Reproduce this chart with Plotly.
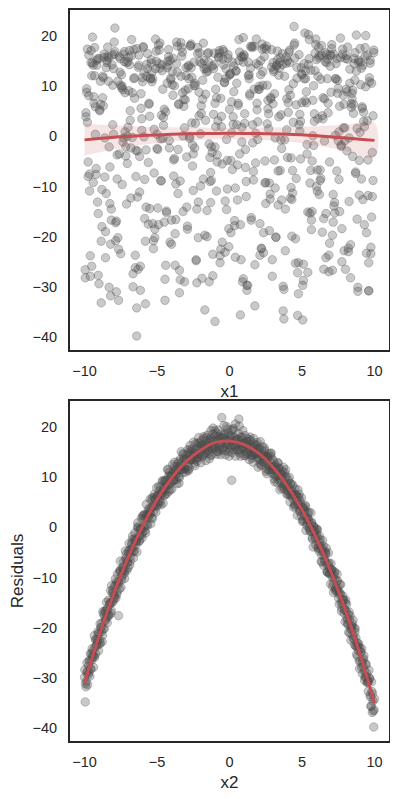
import plotly.graph_objects as go

# ---------------- data ----------------
x2_a = [-10.0, -9.9, -9.8, -9.7, -9.6, -9.5, -9.4, -9.3, -9.2, -9.1,
        -9.0, -8.9, -8.8, -8.7, -8.6, -8.5, -8.4, -8.3, -8.2, -8.1,
        -8.0, -7.9, -7.8, -7.7, -7.6, -7.5, -7.4, -7.3, -7.2, -7.1,
        -7.0, -6.9, -6.8, -6.7, -6.6, -6.5, -6.4, -6.3, -6.2, -6.1,
        -6.0, -5.9, -5.8, -5.7, -5.6, -5.5, -5.4, -5.3, -5.2, -5.1,
        -5.0, -4.9, -4.8, -4.7, -4.6, -4.5, -4.4, -4.3, -4.2, -4.1,
        -4.0, -3.9, -3.8, -3.7, -3.6, -3.5, -3.4, -3.3, -3.2, -3.1,
        -3.0, -2.9, -2.8, -2.7, -2.6, -2.5, -2.4, -2.3, -2.2, -2.1,
        -2.0, -1.9, -1.8, -1.7, -1.6, -1.5, -1.4, -1.3, -1.2, -1.1,
        -1.0, -0.9, -0.8, -0.7, -0.6, -0.5, -0.4, -0.3, -0.2, -0.1,
        0.0,
        0.1, 0.2, 0.3, 0.4, 0.5, 0.6, 0.7, 0.8, 0.9, 1.0,
        1.1, 1.2, 1.3, 1.4, 1.5, 1.6, 1.7, 1.8, 1.9, 2.0,
        2.1, 2.2, 2.3, 2.4, 2.5, 2.6, 2.7, 2.8, 2.9, 3.0,
        3.1, 3.2, 3.3, 3.4, 3.5, 3.6, 3.7, 3.8, 3.9, 4.0,
        4.1, 4.2, 4.3, 4.4, 4.5, 4.6, 4.7, 4.8, 4.9, 5.0,
        5.1, 5.2, 5.3, 5.4, 5.5, 5.6, 5.7, 5.8, 5.9, 6.0,
        6.1, 6.2, 6.3, 6.4, 6.5, 6.6, 6.7, 6.8, 6.9, 7.0,
        7.1, 7.2, 7.3, 7.4, 7.5, 7.6, 7.7, 7.8, 7.9, 8.0,
        8.1, 8.2, 8.3, 8.4, 8.5, 8.6, 8.7, 8.8, 8.9, 9.0,
        9.1, 9.2, 9.3, 9.4, 9.5, 9.6, 9.7, 9.8, 9.9, 10.0]

resid_a = [-29.9, -31.8, -28.7, -29.0, -25.2, -26.5, -24.6, -25.9, -22.3, -22.8,
           -21.1, -23.1, -19.1, -20.2, -16.7, -17.9, -16.5, -17.5, -12.6, -15.0,
           -13.1, -13.9, -10.9, -11.5, -12.3, -8.8, -9.5, -6.8, -8.5, -6.6,
           -8.1, -4.5, -5.1, -2.4, -4.7, -2.3, -2.9, -0.3, -2.6, -0.4,
           2.3, -0.1, 1.9, 0.5, 3.5, 2.8, 3.9, 1.8, 6.0, 4.4,
           6.3, 4.9, 6.6, 6.4, 9.2, 6.5, 8.9, 8.5, 10.2, 7.6,
           10.2, 9.4, 12.1, 10.6, 12.1, 10.1, 12.2, 11.5, 14.7, 11.8,
           13.6, 11.5, 14.6, 13.5, 15.5, 13.5, 14.8, 13.6, 16.8, 14.6,
           16.1, 14.0, 16.0, 15.7, 17.3, 15.2, 16.8, 14.3, 17.6, 16.2,
           19.3, 16.0, 17.4, 15.6, 18.6, 16.9, 17.9, 15.3, 20.1, 16.5,
           18.2,
           16.1, 17.3, 15.5, 20.6, 16.6, 17.5, 15.5, 18.0, 15.8, 16.7,
           14.3, 17.0, 15.6, 17.5, 14.4, 16.0, 14.5, 16.3, 14.7, 15.5,
           12.8, 14.3, 13.1, 15.9, 12.9, 14.2, 11.4, 13.0, 12.0, 13.5,
           10.6, 11.5, 8.9, 11.7, 9.6, 10.6, 8.1, 10.9, 8.2, 8.8,
           6.7, 8.7, 6.2, 6.5, 4.2, 6.5, 4.7, 6.6, 3.1, 4.0,
           1.5, 3.1, 1.7, 2.8, -0.2, 0.6, -2.1, 0.2, -2.1, -1.3,
           -4.0, -1.7, -4.4, -4.2, -7.6, -4.8, -7.4, -7.3, -9.2, -7.2,
           -10.0, -9.6, -12.6, -10.8, -12.7, -11.4, -15.0, -14.6, -17.1, -15.1,
           -18.0, -17.4, -21.1, -19.7, -21.5, -20.1, -23.7, -23.0, -24.6, -24.1,
           -27.9, -26.5, -28.6, -27.2, -31.0, -30.7, -33.4, -30.8, -34.6, -34.2]

x2_b = [-9.95, -9.85, -9.75, -9.65, -9.55, -9.45, -9.35, -9.25, -9.15, -9.05,
        -8.95, -8.85, -8.75, -8.65, -8.55, -8.45, -8.35, -8.25, -8.15, -8.05,
        -7.95, -7.85, -7.75, -7.65, -7.55, -7.45, -7.35, -7.25, -7.15, -7.05,
        -6.95, -6.85, -6.75, -6.65, -6.55, -6.45, -6.35, -6.25, -6.15, -6.05,
        -5.95, -5.85, -5.75, -5.65, -5.55, -5.45, -5.35, -5.25, -5.15, -5.05,
        -4.95, -4.85, -4.75, -4.65, -4.55, -4.45, -4.35, -4.25, -4.15, -4.05,
        -3.95, -3.85, -3.75, -3.65, -3.55, -3.45, -3.35, -3.25, -3.15, -3.05,
        -2.95, -2.85, -2.75, -2.65, -2.55, -2.45, -2.35, -2.25, -2.15, -2.05,
        -1.95, -1.85, -1.75, -1.65, -1.55, -1.45, -1.35, -1.25, -1.15, -1.05,
        -0.95, -0.85, -0.75, -0.65, -0.55, -0.45, -0.35, -0.25, -0.15, -0.05,
        0.05, 0.15, 0.25, 0.35, 0.45, 0.55, 0.65, 0.75, 0.85, 0.95,
        1.05, 1.15, 1.25, 1.35, 1.45, 1.55, 1.65, 1.75, 1.85, 1.95,
        2.05, 2.15, 2.25, 2.35, 2.45, 2.55, 2.65, 2.75, 2.85, 2.95,
        3.05, 3.15, 3.25, 3.35, 3.45, 3.55, 3.65, 3.75, 3.85, 3.95,
        4.05, 4.15, 4.25, 4.35, 4.45, 4.55, 4.65, 4.75, 4.85, 4.95,
        5.05, 5.15, 5.25, 5.35, 5.45, 5.55, 5.65, 5.75, 5.85, 5.95,
        6.05, 6.15, 6.25, 6.35, 6.45, 6.55, 6.65, 6.75, 6.85, 6.95,
        7.05, 7.15, 7.25, 7.35, 7.45, 7.55, 7.65, 7.75, 7.85, 7.95,
        8.05, 8.15, 8.25, 8.35, 8.45, 8.55, 8.65, 8.75, 8.85, 8.95,
        9.05, 9.15, 9.25, 9.35, 9.45, 9.55, 9.65, 9.75, 9.85, 9.95]

resid_b = [-34.8, -29.0, -29.4, -26.5, -28.3, -25.5, -25.7, -22.4, -23.4, -21.3,
           -22.5, -19.9, -21.5, -17.6, -18.5, -16.2, -17.4, -15.0, -16.6, -12.5,
           -13.5, -11.6, -12.9, -17.6, -8.5, -9.9, -8.4, -9.2, -6.2, -6.9,
           -5.2, -6.8, -3.2, -4.0, -2.3, -3.5, 0.1, -1.8, -0.3, -1.5,
           1.6, 0.4, 2.5, 0.4, 3.0, 2.7, 5.4, 4.1, 5.6, 4.1,
           6.3, 5.3, 8.1, 6.7, 7.7, 6.4, 9.4, 8.5, 11.0, 8.8,
           10.6, 9.3, 11.0, 10.6, 12.7, 9.9, 12.8, 12.2, 13.8, 12.0,
           13.7, 12.1, 15.5, 13.4, 15.2, 14.2, 14.9, 13.2, 16.3, 14.6,
           16.3, 14.5, 17.7, 15.6, 16.4, 14.8, 17.4, 16.4, 18.6, 15.8,
           17.3, 15.2, 18.1, 16.6, 17.8, 15.9, 18.6, 16.4, 17.1, 15.1,
           17.7, 9.4, 19.4, 16.4, 17.7, 15.5, 21.6, 15.9, 18.0, 16.2,
           16.9, 14.7, 17.1, 15.3, 15.9, 13.8, 16.2, 14.8, 16.5, 13.7,
           14.9, 13.5, 15.3, 13.7, 14.2, 11.7, 14.0, 12.3, 14.2, 11.5,
           12.1, 10.2, 12.0, 10.5, 11.8, 8.9, 10.1, 8.5, 10.0, 6.6,
           8.2, 7.1, 8.7, 5.8, 6.6, 4.5, 6.1, 4.7, 5.4, 2.3,
           3.9, 2.3, 4.1, 0.8, 1.4, -0.7, 0.9, -0.9, -0.6, -3.5,
           -2.0, -3.5, -2.4, -5.5, -4.9, -6.4, -5.3, -8.9, -7.1, -8.9,
           -8.4, -11.1, -10.3, -12.3, -10.6, -13.4, -13.2, -16.1, -14.4, -16.4,
           -16.7, -19.2, -16.9, -20.1, -19.7, -22.3, -20.9, -23.7, -23.8, -26.7,
           -24.8, -27.1, -26.2, -29.7, -29.0, -30.8, -30.1, -35.7, -36.9, -39.8]

x2_c = [-9.93, -9.83, -9.73, -9.63, -9.53, -9.43, -9.33, -9.23, -9.13, -9.03,
        -8.93, -8.83, -8.73, -8.63, -8.53, -8.43, -8.33, -8.23, -8.13, -8.03,
        -7.93, -7.83, -7.73, -7.63, -7.53, -7.43, -7.33, -7.23, -7.13, -7.03,
        -6.93, -6.83, -6.73, -6.63, -6.53, -6.43, -6.33, -6.23, -6.13, -6.03,
        -5.93, -5.83, -5.73, -5.63, -5.53, -5.43, -5.33, -5.23, -5.13, -5.03,
        -4.93, -4.83, -4.73, -4.63, -4.53, -4.43, -4.33, -4.23, -4.13, -4.03,
        -3.93, -3.83, -3.73, -3.63, -3.53, -3.43, -3.33, -3.23, -3.13, -3.03,
        -2.93, -2.83, -2.73, -2.63, -2.53, -2.43, -2.33, -2.23, -2.13, -2.03,
        -1.93, -1.83, -1.73, -1.63, -1.53, -1.43, -1.33, -1.23, -1.13, -1.03,
        -0.93, -0.83, -0.73, -0.63, -0.53, -0.43, -0.33, -0.23, -0.13, -0.03,
        0.07, 0.17, 0.27, 0.37, 0.47, 0.57, 0.67, 0.77, 0.87, 0.97,
        1.07, 1.17, 1.27, 1.37, 1.47, 1.57, 1.67, 1.77, 1.87, 1.97,
        2.07, 2.17, 2.27, 2.37, 2.47, 2.57, 2.67, 2.77, 2.87, 2.97,
        3.07, 3.17, 3.27, 3.37, 3.47, 3.57, 3.67, 3.77, 3.87, 3.97,
        4.07, 4.17, 4.27, 4.37, 4.47, 4.57, 4.67, 4.77, 4.87, 4.97,
        5.07, 5.17, 5.27, 5.37, 5.47, 5.57, 5.67, 5.77, 5.87, 5.97,
        6.07, 6.17, 6.27, 6.37, 6.47, 6.57, 6.67, 6.77, 6.87, 6.97,
        7.07, 7.17, 7.27, 7.37, 7.47, 7.57, 7.67, 7.77, 7.87, 7.97,
        8.07, 8.17, 8.27, 8.37, 8.47, 8.57, 8.67, 8.77, 8.87, 8.97,
        9.07, 9.17, 9.27, 9.37, 9.47, 9.57, 9.67, 9.77, 9.87, 9.97]

resid_c = [-31.2, -27.0, -27.7, -29.7, -25.2, -25.9, -21.6, -25.2, -22.4, -24.6,
           -19.2, -20.8, -16.8, -20.2, -16.7, -19.0, -14.5, -15.2, -11.6, -14.8,
           -11.7, -14.1, -9.3, -10.9, -6.7, -10.5, -7.9, -10.2, -5.4, -7.0,
           -3.2, -5.9, -3.5, -6.1, -1.1, -2.6, 0.9, -2.8, -0.3, -2.1,
           2.3, -0.7, 4.6, 1.7, 3.8, 0.7, 5.9, 3.2, 5.5, 7.9,
           4.5, 7.3, 4.5, 9.3, 7.5, 9.4, 6.7, 11.6, 8.6, 10.2,
           12.5, 9.5, 11.5, 8.7, 13.1, 11.7, 15.1, 10.9, 13.5, 11.0,
           14.5, 11.3, 16.3, 13.5, 14.7, 12.8, 16.7, 13.9, 17.9, 15.0,
           17.3, 14.3, 16.4, 13.3, 18.4, 15.4, 17.7, 14.5, 19.8, 16.2,
           18.8, 15.1, 17.7, 14.5, 21.9, 15.8, 18.4, 16.7, 19.6, 14.2,
           18.3, 14.9, 19.7, 16.1, 17.2, 15.2, 20.2, 14.2, 17.4, 15.9,
           18.3, 15.1, 16.5, 13.5, 17.2, 14.3, 17.7, 14.9, 15.7, 12.0,
           15.8, 12.3, 16.1, 13.1, 14.2, 10.7, 14.7, 11.5, 14.8, 11.6,
           9.7, 12.4, 10.3, 12.8, 7.5, 10.3, 11.2, 7.7, 11.5, 7.4,
           9.4, 5.1, 7.2, 8.4, 4.6, 6.4, 2.4, 6.0, 3.5, 5.9,
           1.3, 3.5, -0.6, 1.9, 3.0, -0.8, 1.0, -3.9, -0.9, -0.4,
           -0.5, -4.7, -3.7, -6.9, -3.7, -6.7, -4.1, -9.0, -8.0, -11.3,
           -8.6, -13.0, -9.0, -12.7, -12.1, -15.3, -11.4, -15.3, -14.5, -18.8,
           -15.4, -19.4, -18.4, -22.5, -19.2, -22.1, -20.2, -25.3, -23.5, -28.2,
           -25.0, -29.2, -25.6, -30.0, -29.7, -32.7, -30.1, -35.6, -33.2, -36.4]

x2_d = [-9.98, -9.88, -9.78, -9.68, -9.58, -9.48, -9.38, -9.28, -9.18, -9.08,
        -8.98, -8.88, -8.78, -8.68, -8.58, -8.48, -8.38, -8.28, -8.18, -8.08,
        -7.98, -7.88, -7.78, -7.68, -7.58, -7.48, -7.38, -7.28, -7.18, -7.08,
        -6.98, -6.88, -6.78, -6.68, -6.58, -6.48, -6.38, -6.28, -6.18, -6.08,
        -5.98, -5.88, -5.78, -5.68, -5.58, -5.48, -5.38, -5.28, -5.18, -5.08,
        -4.98, -4.88, -4.78, -4.68, -4.58, -4.48, -4.38, -4.28, -4.18, -4.08,
        -3.98, -3.88, -3.78, -3.68, -3.58, -3.48, -3.38, -3.28, -3.18, -3.08,
        -2.98, -2.88, -2.78, -2.68, -2.58, -2.48, -2.38, -2.28, -2.18, -2.08,
        -1.98, -1.88, -1.78, -1.68, -1.58, -1.48, -1.38, -1.28, -1.18, -1.08,
        -0.98, -0.88, -0.78, -0.68, -0.58, -0.48, -0.38, -0.28, -0.18, -0.08,
        0.02, 0.12, 0.22, 0.32, 0.42, 0.52, 0.62, 0.72, 0.82, 0.92,
        1.02, 1.12, 1.22, 1.32, 1.42, 1.52, 1.62, 1.72, 1.82, 1.92,
        2.02, 2.12, 2.22, 2.32, 2.42, 2.52, 2.62, 2.72, 2.82, 2.92,
        3.02, 3.12, 3.22, 3.32, 3.42, 3.52, 3.62, 3.72, 3.82, 3.92,
        4.02, 4.12, 4.22, 4.32, 4.42, 4.52, 4.62, 4.72, 4.82, 4.92,
        5.02, 5.12, 5.22, 5.32, 5.42, 5.52, 5.62, 5.72, 5.82, 5.92,
        6.02, 6.12, 6.22, 6.32, 6.42, 6.52, 6.62, 6.72, 6.82, 6.92,
        7.02, 7.12, 7.22, 7.32, 7.42, 7.52, 7.62, 7.72, 7.82, 7.92,
        8.02, 8.12, 8.22, 8.32, 8.42, 8.52, 8.62, 8.72, 8.82, 8.92,
        9.02, 9.12, 9.22, 9.32, 9.42, 9.52, 9.62, 9.72, 9.82, 9.92]

resid_d = [-28.4, -30.7, -31.4, -26.7, -28.2, -24.2, -27.9, -23.8, -23.7, -20.8,
           -23.3, -20.0, -22.8, -17.2, -18.6, -14.9, -17.8, -15.4, -17.1, -13.1,
           -14.3, -10.3, -13.4, -10.9, -8.8, -12.0, -8.0, -8.7, -4.7, -8.6,
           -4.8, -7.5, -4.3, -1.7, -4.8, -2.7, -4.9, 0.0, -1.6, 1.8,
           -0.9, 2.6, -1.1, 2.6, 2.2, 5.6, 1.9, 4.3, 6.6, 3.0,
           6.1, 8.2, 5.1, 6.9, 4.8, 9.2, 7.5, 11.5, 7.2, 10.2,
           7.6, 11.2, 13.0, 9.5, 11.5, 8.8, 13.6, 11.6, 14.5, 11.6,
           13.6, 15.5, 11.7, 15.1, 13.7, 17.0, 12.3, 15.7, 14.0, 16.8,
           12.9, 16.4, 18.1, 14.8, 17.9, 16.0, 13.7, 19.3, 15.7, 17.2,
           18.2, 14.6, 19.4, 16.2, 17.8, 15.4, 20.3, 14.5, 17.4, 18.8,
           15.7, 19.4, 16.5, 18.0, 14.2, 17.5, 18.7, 14.8, 16.7, 19.3,
           14.3, 16.7, 17.7, 14.7, 18.0, 15.0, 13.0, 16.6, 14.7, 16.9,
           13.8, 17.1, 12.5, 14.3, 15.4, 11.2, 14.0, 12.3, 14.8, 10.8,
           13.1, 9.1, 11.5, 12.9, 9.4, 10.9, 7.8, 12.0, 8.6, 10.1,
           6.6, 10.0, 6.4, 7.4, 4.0, 7.7, 5.3, 7.5, 3.2, 4.8,
           1.2, 3.9, 4.4, 0.4, 1.7, 0.0, 2.9, -2.3, 0.1, -2.1,
           -0.3, -4.2, -2.9, -6.8, -2.6, -5.7, -5.1, -8.8, -5.1, -9.3,
           -8.5, -11.8, -8.8, -12.0, -9.3, -14.1, -13.2, -16.7, -13.7, -16.4,
           -14.5, -18.4, -20.9, -17.6, -20.4, -18.5, -23.4, -22.0, -25.7, -23.2,
           -26.6, -24.2, -27.8, -30.5, -27.4, -30.9, -28.5, -33.8, -32.7, -36.6]

x1_a = [3.7, -8.2, 5.1, -1.4, 9.6, -6.3, 0.8, -9.5, 2.2, 7.9, -4.1, -0.3, 6.4, -7.7, 1.5, -2.9, 8.8, -5.6, 4.3, -3.2,
        -9.1, 7.2, -0.9, 2.8, -6.8, 9.9, -3.7, 5.6, -1.8, 0.2, -8.6, 4.9, 6.9, -5.0, 3.1, -2.4, 8.1, -7.3, 1.1, -4.6,
        0.5, -5.9, 9.3, -2.0, 6.1, -9.8, 3.4, -7.0, 7.6, -1.1, 4.6, -4.4, 1.9, -8.9, 8.5, -3.5, 5.3, -6.1, 2.6, -0.6,
        -7.5, 2.0, -3.0, 8.3, -9.3, 5.8, 0.0, -5.3, 6.7, -2.6, 9.1, -6.6, 3.9, -1.6, 7.4, -8.0, 1.3, -4.8, 4.1, 9.7,
        6.2, -1.2, -8.4, 3.5, -4.2, 8.9, 0.7, -6.9, 2.4, -9.7, 5.5, -3.3, 7.8, -0.1, 4.5, -7.9, 1.7, -5.4, 9.4, -2.2,
        -4.9, 7.0, 2.9, -9.0, 5.2, -0.7, -6.4, 8.6, -2.7, 0.9, 6.6, -8.1, 3.3, -3.9, 9.0, -5.7, 1.0, -1.9, 4.8, -7.1,
        8.0, -3.6, -0.4, 5.9, -7.6, 2.3, -9.4, 6.3, -1.5, 3.8, -5.1, 9.8, -2.8, 0.3, -8.7, 7.5, -4.3, 1.4, -6.0, 4.2,
        -2.1, 5.0, -7.2, 0.6, 8.4, -4.7, 3.0, -9.9, 6.8, -0.8, -5.5, 2.7, 9.5, -3.1, 4.4, -6.7, 1.8, -8.3, 7.3, -1.0,
        1.6, -6.2, 7.7, -3.8, 4.0, -9.2, 0.1, 8.7, -5.2, 2.5, -1.3, 6.0, -7.4, 9.2, -2.5, 3.6, -8.5, 5.7, -0.2, -4.5,
        5.4, -8.8, 2.1, -0.5, 7.1, -4.0, 3.2, -6.5, 8.2, -2.3, 0.4, -9.6, 6.5, -3.4, 4.7, -7.8, 1.2, -5.8, 9.6, -1.7,
        -6.4, 3.7, 0.9, -9.0, 8.0, -1.9, 5.1, -4.4, 2.2, -7.5, 6.9, -0.6, 4.3, -8.2, 9.3, -2.9, 1.5, -5.3, 7.6, -3.7,
        2.8, -7.1, 6.2, -0.3, -4.9, 9.1, -2.0, 4.6, -9.4, 1.1, 7.4, -5.6, 3.5, -1.2, 8.5, -6.8, 0.7, -3.2, 5.8, -8.6,
        -1.4, 8.8, -5.0, 2.6, -8.0, 4.9, -2.6, 0.0, 6.4, -6.1, 9.9, -3.5, 1.9, -9.7, 5.3, -0.9, 7.9, -4.6, 3.1, -7.7,
        7.0, -2.4, 4.1, -8.9, 0.5, -5.9, 9.4, -1.6, 3.4, -6.3, 6.1, -3.0, 1.3, -9.1, 8.3, -4.1, 2.0, -7.0, 5.6, -0.1,
        -5.4, 1.0, 8.6, -3.3, 4.5, -7.3, 0.2, -9.8, 6.7, -1.8, 3.9, -6.6, 9.7, -2.7, 5.9, -8.4, 2.4, -4.8, 7.2, -0.7,
        4.0, -9.3, 1.7, -5.1, 7.8, -2.2, 5.5, -7.9, 0.8, -3.6, 9.5, -0.4, 3.0, -6.9, 6.0, -4.2, 2.9, -8.1, 8.9, -1.5,
        -8.5, 6.6, -1.1, 3.3, -4.3, 9.2, -6.0, 0.3, 5.0, -2.8, 7.3, -9.5, 2.3, -5.7, 4.4, -0.8, 8.1, -3.8, 1.4, -7.4,
        0.6, -3.9, 5.2, -6.7, 8.4, -1.0, 2.7, -8.7, 6.8, -4.5, 1.6, -9.9, 4.8, -2.1, 9.0, -5.2, 3.8, -7.2, 7.5, -0.2,
        -2.5, 7.7, -7.6, 3.6, -0.5, 5.7, -9.2, 1.8, -4.7, 8.7, -3.4, 6.3, -6.2, 0.4, 4.2, -8.8, 2.5, -1.3, 9.8, -5.5,
        6.5, -4.0, 0.1, -7.8, 3.2, -1.7, 8.2, -5.8, 2.1, -9.6, 7.1, -2.3, 5.4, -6.5, 1.2, -3.1, 9.6, -8.3, 4.7, -1.0,
        -6.4]

x1_b = [-3.45, 6.85, -9.05, 1.25, 4.75, -6.15, 8.35, -0.65, -5.25, 2.95, 9.45, -7.85, 0.35, -2.15, 5.65, -8.55, 3.85, -4.35, 7.15, -1.55,
        8.95, -5.75, 2.45, -9.65, 6.05, -0.15, -3.85, 4.25, -7.05, 1.65, 9.85, -2.55, 5.35, -8.25, 0.85, -4.95, 7.55, -6.45, 3.15, -1.25,
        -8.05, 3.55, -1.95, 7.85, -4.55, 0.15, 9.15, -6.85, 2.65, -9.35, 5.85, -3.05, 1.05, -7.35, 6.55, -0.95, 4.05, -5.45, 8.45, -2.35,
        4.95, -9.85, 7.35, -3.25, 0.45, -6.55, 2.15, 9.65, -1.75, -8.35, 5.15, -4.05, 6.95, -0.25, 3.45, -7.55, 8.65, -2.85, 1.45, -5.05,
        -0.45, 5.45, -7.95, 3.05, -2.65, 8.15, -5.95, 1.85, -9.45, 6.35, -3.65, 0.65, 9.35, -4.85, 4.45, -8.65, 2.25, -1.45, 7.65, -6.25,
        7.05, -2.05, 0.95, -6.75, 4.15, -9.15, 8.75, -4.25, 2.55, -0.75, 5.95, -8.45, 3.65, -5.65, 9.95, -1.05, 1.55, -7.25, 6.15, -3.35,
        -6.95, 1.35, 8.05, -4.65, 3.25, -0.35, -9.55, 6.75, -2.45, 4.65, -7.45, 0.05, 9.05, -5.35, 2.85, -3.95, 7.45, -8.75, 5.25, -1.85,
        2.05, -8.95, 5.75, -1.65, 8.55, -5.55, 0.25, -3.15, 6.45, -9.25, 3.95, -6.05, 1.95, -0.55, 9.25, -4.15, 4.85, -7.15, 7.95, -2.75,
        -4.75, 9.55, -0.85, 3.35, -7.75, 6.25, -2.95, 1.15, -9.75, 4.35, -5.85, 8.25, -1.35, 0.55, -6.35, 5.55, -3.55, 7.25, -8.15, 2.75,
        6.65, -3.75, -0.05, -7.65, 2.35, 9.75, -5.15, 4.55, -1.15, -9.95, 7.75, -2.25, 1.75, -6.65, 5.05, -4.45, 8.85, 0.75, -8.85, 3.75,
        0.95, -6.15, 4.75, -3.45, 8.35, -8.55, 2.95, -0.65, 6.85, -5.25, 9.45, -1.55, 3.85, -7.85, 5.65, -4.35, 0.35, -9.05, 7.15, -2.15,
        -4.95, 3.15, -8.25, 6.05, -1.25, 9.85, -6.45, 1.65, -3.85, 7.55, -0.15, -9.65, 4.25, -2.55, 8.95, -5.75, 2.45, -7.05, 5.35, 0.85,
        6.55, -2.35, -7.35, 1.05, -4.55, 9.15, -0.95, 3.55, -9.35, 5.85, -1.95, 7.85, -6.85, 0.15, 4.05, -3.05, 8.45, -5.45, 2.65, -8.05,
        -6.55, 8.65, 0.45, -2.85, 5.15, -9.85, 3.45, -0.25, 7.35, -4.05, 1.45, -7.55, 9.65, -1.75, 4.95, -5.05, 2.15, -8.35, 6.95, -3.25,
        3.05, -8.65, 6.35, -1.45, -5.95, 9.35, -2.65, 0.65, 7.65, -4.85, 4.45, -9.45, 1.85, -6.25, 8.15, -0.45, 5.45, -3.65, 2.25, -7.95,
        -0.75, 5.95, -5.65, 2.55, -9.15, 7.05, -3.35, 0.95, 9.95, -6.75, 3.65, -2.05, 6.15, -8.45, 1.55, -4.25, 8.75, -1.05, 4.15, -7.25,
        4.65, -9.55, 0.05, -4.65, 6.75, -1.85, 3.25, -7.45, 9.05, -0.35, 5.25, -6.95, 1.35, -3.95, 8.05, -5.35, 2.85, -8.75, 7.45, -2.45,
        -5.55, 2.05, 8.55, -3.15, -0.55, 6.45, -8.95, 3.95, -1.65, 9.25, -6.05, 0.25, 4.85, -9.25, 7.95, -2.75, 1.95, -4.15, 5.75, -7.15,
        8.25, -1.35, -6.35, 4.35, -3.55, 0.55, -9.75, 6.25, -0.85, 2.75, -7.75, 9.55, -4.75, 1.15, 5.55, -2.95, 7.25, -8.15, 3.35, -5.85,
        -2.25, 7.75, -8.85, 0.75, 4.55, -5.15, 9.75, -0.05, -3.75, 2.35, -9.95, 6.65, -1.15, 3.75, -6.65, 8.85, -4.45, 1.75, -7.65, 5.05]

# fitted curve of residuals vs x1 (with confidence band)
fit1_x = [-10, -8, -6, -4, -2, 0, 2, 4, 6, 8, 10]
fit1_y = [-0.7, -0.2, 0.15, 0.4, 0.55, 0.6, 0.55, 0.4, 0.1, -0.3, -0.8]
fit1_hi = [2.5, 2.2, 1.95, 1.8, 1.75, 1.7, 1.75, 1.8, 2.0, 2.3, 2.7]
fit1_lo = [-3.8, -2.6, -1.65, -1.0, -0.65, -0.5, -0.65, -1.0, -1.8, -2.9, -4.2]

# smooth curve of residuals vs x2
fit2_x = [-10, -9, -8, -7, -6, -5, -4, -3, -2, -1, 0, 1, 2, 3, 4, 5, 6, 7, 8, 9, 10]
fit2_y = [-31.0, -21.7, -13.4, -6.1, 0.2, 5.5, 9.8, 13.1, 15.4, 16.9, 17.2, 16.5, 14.8,
          12.0, 8.2, 3.5, -2.2, -8.9, -16.6, -25.3, -35.0]

x_ticks = [-10, -5, 0, 5, 10]
y_ticks = [-40, -30, -20, -10, 0, 10, 20]

# ---------------- figure ----------------
x2_ab = x2_a + x2_b
resid_ab = resid_a + resid_b
x2_cd = x2_c + x2_d
resid_cd = resid_c + resid_d
n1 = min(len(x1_a), len(x2_ab), len(resid_ab))
n2 = min(len(x1_b), len(x2_cd), len(resid_cd))
x1 = x1_a[:n1] + x1_b[:n2]
x2 = x2_ab[:n1] + x2_cd[:n2]
resid = resid_ab[:n1] + resid_cd[:n2]

RED = "#C44E52"
PT = "rgba(77,77,77,0.30)"
TXT = "#262626"
FONT = "Liberation Sans, Arial, sans-serif"

fig = go.Figure()

marker = dict(size=8.5, color=PT, line=dict(color=PT, width=1))

fig.add_trace(go.Scatter(x=x1, y=resid, mode="markers", marker=marker,
                         xaxis="x", yaxis="y", showlegend=False, hoverinfo="skip"))
fig.add_trace(go.Scatter(x=fit1_x + fit1_x[::-1], y=fit1_hi + fit1_lo[::-1],
                         mode="lines", line=dict(width=0, shape="spline"), fill="toself",
                         fillcolor="rgba(196,78,82,0.15)", xaxis="x", yaxis="y",
                         showlegend=False, hoverinfo="skip"))
fig.add_trace(go.Scatter(x=fit1_x, y=fit1_y, mode="lines",
                         line=dict(color=RED, width=3, shape="spline"),
                         xaxis="x", yaxis="y", showlegend=False, hoverinfo="skip"))

fig.add_trace(go.Scatter(x=x2, y=resid, mode="markers", marker=marker,
                         xaxis="x2", yaxis="y2", showlegend=False, hoverinfo="skip"))
fig.add_trace(go.Scatter(x=fit2_x, y=fit2_y, mode="lines",
                         line=dict(color=RED, width=3, shape="spline"),
                         xaxis="x2", yaxis="y2", showlegend=False, hoverinfo="skip"))

H_TOP0 = 391 / 731
H_BOT1 = 340 / 731

common_x = dict(range=[-11, 11], tickvals=x_ticks, showgrid=False, zeroline=False,
                showline=True, linecolor=TXT, linewidth=1.8, mirror=True,
                ticks="outside", ticklen=7, tickcolor="rgba(0,0,0,0)", automargin=False,
                tickfont=dict(size=14.5, color=TXT, family=FONT))
common_y = dict(range=[-42.6, 25.2], tickvals=y_ticks, showgrid=False, zeroline=False,
                showline=True, linecolor=TXT, linewidth=1.8, mirror=True,
                ticks="outside", ticklen=8, tickcolor="rgba(0,0,0,0)", automargin=False,
                tickfont=dict(size=14.5, color=TXT, family=FONT))

# the page adds an 8px body margin, so the figure is 8px smaller and shifted
fig.update_layout(
    width=390, height=791,
    margin=dict(l=62, r=9, t=2, b=58),
    paper_bgcolor="white", plot_bgcolor="white",
    font=dict(family=FONT, color=TXT),
    xaxis=dict(domain=[0, 1], anchor="y",
               title=dict(text="x1", font=dict(size=17, color=TXT, family=FONT), standoff=7),
               **common_x),
    yaxis=dict(domain=[H_TOP0, 1], anchor="x", **common_y),
    xaxis2=dict(domain=[0, 1], anchor="y2",
                title=dict(text="x2", font=dict(size=17, color=TXT, family=FONT), standoff=7),
                **common_x),
    yaxis2=dict(domain=[0, H_BOT1], anchor="x2",
                title=dict(text="Residuals", font=dict(size=17, color=TXT, family=FONT), standoff=6),
                **common_y),
)

fig.write_html("out.html")
